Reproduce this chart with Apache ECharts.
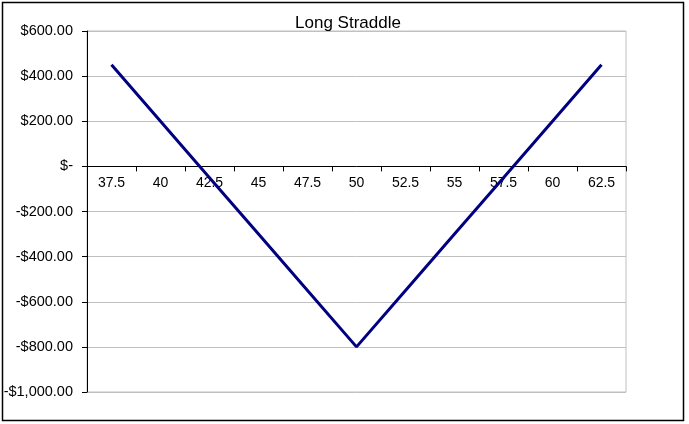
<!DOCTYPE html>
<html>
<head>
<meta charset="utf-8">
<script src="https://cdn.jsdelivr.net/npm/echarts@6/dist/echarts.min.js"></script>
<style>
  html, body { margin: 0; padding: 0; background: #fff; }
  #chart { width: 689px; height: 424px; }
</style>
</head>
<body>
<div id="chart"></div>
<script>
// stock price at expiry
var prices = ['37.5', '40', '42.5', '45', '47.5', '50', '52.5', '55', '57.5', '60', '62.5'];
// profit / loss of the straddle
var profit = [450, 200, -50, -300, -550, -800, -550, -300, -50, 200, 450];

function money(v) {
  if (v === 0) return '$-';
  var s = Math.abs(v).toFixed(2).replace(/\B(?=(\d{3})+(?!\d))/g, ',');
  return (v < 0 ? '-$' : '$') + s;
}

var myChart = echarts.init(document.getElementById('chart'));
var option = {
  animation: false,
  title: {
    text: 'Long Straddle',
    left: 343,
    top: 10,
    textAlign: 'center',
    textStyle: { fontFamily: 'Arial, Liberation Sans', fontSize: 17, fontWeight: 'normal', color: '#000' }
  },
  graphic: [{
    type: 'rect',
    shape: { x: 2.5, y: 2.5, width: 681, height: 418 },
    style: { fill: 'none', stroke: '#000', lineWidth: 1.5 },
    silent: true
  }],
  grid: {
    left: 87, right: 63, top: 31, bottom: 32,
    show: true, borderColor: '#c0c0c0', borderWidth: 1
  },
  xAxis: {
    type: 'category',
    data: prices,
    boundaryGap: true,
    // sits on the $0 line, as in the reference
    offset: -225.6,
    axisLine: { onZero: false, lineStyle: { color: '#000', width: 1 } },
    axisTick: { show: true, length: 5, lineStyle: { color: '#000' } },
    axisLabel: { margin: 10, color: '#000', fontFamily: 'Arial, Liberation Sans', fontSize: 14 },
    splitLine: { show: false }
  },
  yAxis: {
    type: 'value',
    min: -1000, max: 600, interval: 200,
    axisLine: { show: true, lineStyle: { color: '#000', width: 1 } },
    axisTick: { show: true, length: 5, lineStyle: { color: '#000' } },
    axisLabel: { margin: 14, color: '#000', fontFamily: 'Arial, Liberation Sans', fontSize: 14.5, formatter: money },
    splitLine: { show: true, lineStyle: { color: '#c0c0c0', width: 1 } }
  },
  series: [{
    type: 'line',
    data: profit,
    showSymbol: false,
    symbol: 'none',
    lineStyle: { color: '#000080', width: 3 }
  }]
};
myChart.setOption(option);
window.onresize = myChart.resize;
</script>
</body>
</html>
